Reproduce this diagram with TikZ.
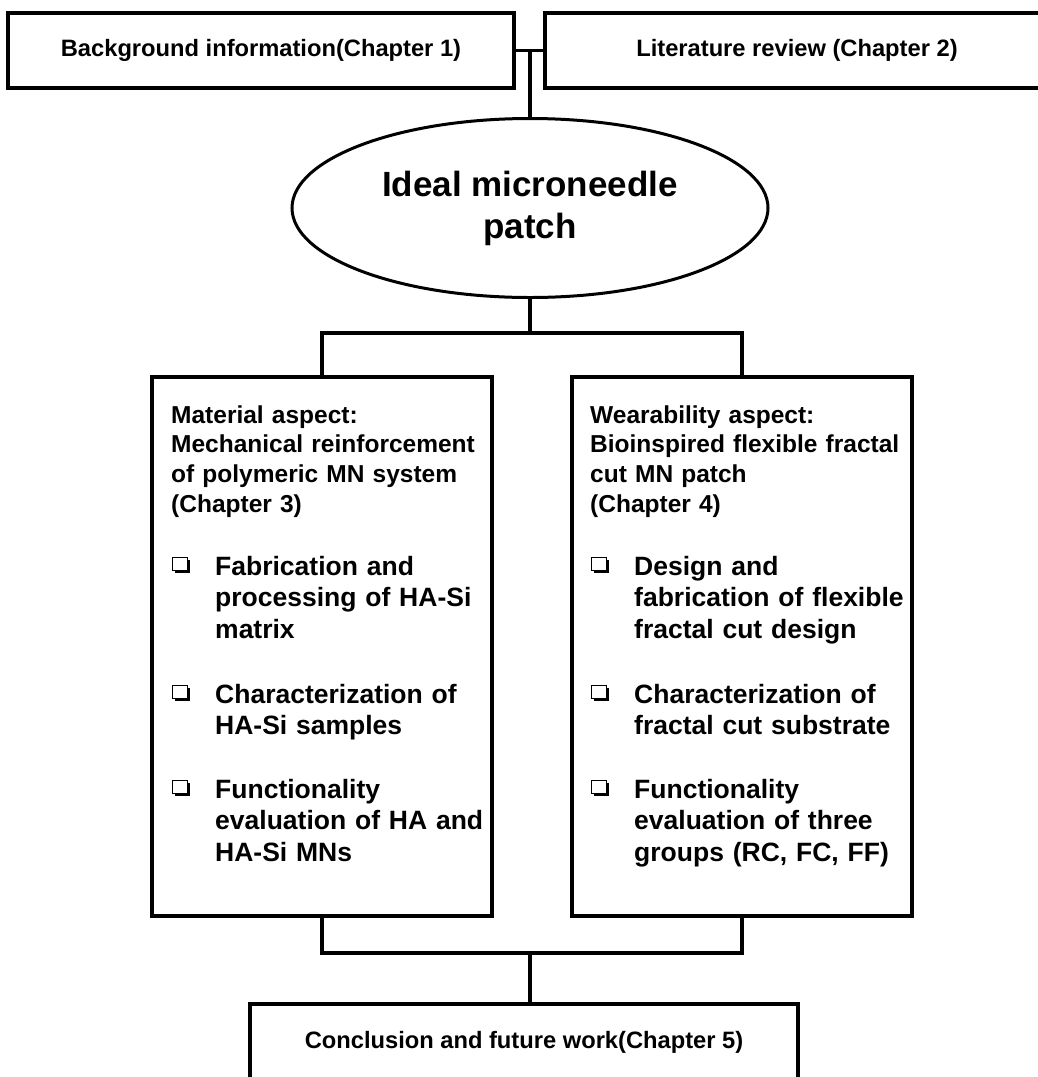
\documentclass[tikz,border=0pt]{standalone}
\usepackage{fontspec}
\setmainfont{Liberation Sans}
\usetikzlibrary{shapes.geometric,shadows}

\begin{document}
\begin{tikzpicture}[x=1pt, y=-1pt,
    plainbox/.style={rectangle, draw, line width=3.6pt, inner sep=0pt},
    chapbox/.style={plainbox, minimum width=506pt, minimum height=75pt, font=\fontsize{23.7}{28}\selectfont\bfseries},
    aspectbox/.style={plainbox, minimum width=340pt, minimum height=539pt},
    head/.style={anchor=base west, inner sep=0pt, text width=330pt, align=left, font=\fontsize{24.5}{29.7}\selectfont\bfseries},
    task/.style={anchor=base west, inner sep=0pt, text width=300pt, align=left, font=\fontsize{26.5}{31.5}\selectfont\bfseries},
    chkbox/.style={rectangle, draw, fill=white, line width=1.8pt, minimum width=15pt, minimum height=13pt, inner sep=0pt,
        drop shadow={shadow xshift=2.4pt, shadow yshift=-2.4pt, fill=black, opacity=1}},
    link/.style={line width=3.6pt}]
\useasboundingbox (0, 0) rectangle (1038, 1077);
\clip (0, 0) rectangle (1038, 1077);

% chapters 1 and 2
\node at (261, 50.5) [chapbox] (bg) {Background information(Chapter 1)};
\node at (797, 50.5) [chapbox, minimum width=504pt] (lit) {Literature review (Chapter 2)};

\node at (530, 208) [ellipse, draw, line width=3pt, minimum width=476pt, minimum height=179pt, inner sep=0pt,
    align=center, font=\fontsize{35}{42}\selectfont\bfseries] (ideal) {Ideal microneedle\\patch};

% the two aspects
\node at (322, 646.5) [aspectbox] (mat) {};
\node at (742, 646.5) [aspectbox] (wear) {};

\node at (171, 423) [head] (mathead) {Material aspect:\\Mechanical reinforcement\\of polymeric MN system\\(Chapter 3)};
\node at (180, 564) [chkbox] (matchk1) {};
\node at (215, 575) [task] (mattask1) {Fabrication and\\processing of HA-Si\\matrix};
\node at (180, 692) [chkbox] (matchk2) {};
\node at (215, 703) [task] (mattask2) {Characterization of\\HA-Si samples};
\node at (180, 787) [chkbox] (matchk3) {};
\node at (215, 798) [task] (mattask3) {Functionality\\evaluation of HA and\\HA-Si MNs};

\node at (590, 423) [head] (wearhead) {Wearability aspect:\\Bioinspired flexible fractal\\cut MN patch\\(Chapter 4)};
\node at (599, 564) [chkbox] (wearchk1) {};
\node at (634, 575) [task] (weartask1) {Design and\\fabrication of flexible\\fractal cut design};
\node at (599, 692) [chkbox] (wearchk2) {};
\node at (634, 703) [task] (weartask2) {Characterization of\\fractal cut substrate};
\node at (599, 787) [chkbox] (wearchk3) {};
\node at (634, 798) [task] (weartask3) {Functionality\\evaluation of three\\groups (RC, FC, FF)};

% chapter 5
\node at (524, 1042) [chapbox, minimum width=548pt, minimum height=76pt] (concl) {Conclusion and future work(Chapter 5)};

\coordinate (split) at (530, 333);
\coordinate (merge) at (530, 953);

\draw[link] (bg.east) -- (lit.west);
\draw[link] (ideal.north) -- (ideal.north |- bg.east);
\draw[link] (ideal.south) -- (split);
\draw[link] (mat.north) |- (split) -| (wear.north);
\draw[link] (mat.south) |- (merge) -| (wear.south);
\draw[link] (merge) -- (merge |- concl.north);
\end{tikzpicture}
\end{document}
